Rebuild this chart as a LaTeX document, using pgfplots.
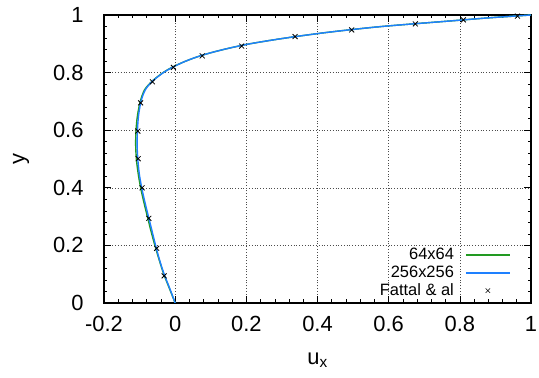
\documentclass[border=0pt]{standalone}
\usepackage{fontspec}
\setmainfont{Liberation Sans}
\usepackage{pgfplots}
\pgfplotsset{compat=1.18}
\definecolor{cgreen}{RGB}{34,154,34}
\definecolor{cblue}{RGB}{30,128,255}
\begin{document}
\begin{tikzpicture}
\begin{axis}[
  at={(0,0)}, anchor=south west,
  scale only axis, width=427bp, height=288bp,
  xmin=-0.2, xmax=1, ymin=0, ymax=1,
  xtick={-0.2,0,0.2,0.4,0.6,0.8,1},
  xticklabels={-0.2,0,0.2,0.4,0.6,0.8,1},
  ytick={0,0.2,0.4,0.6,0.8,1},
  yticklabels={0,0.2,0.4,0.6,0.8,1},
  minor x tick num=4, minor y tick num=4,
  tick align=inside,
  major tick length=7bp, minor tick length=3.5bp,
  tick style={black, line width=0.6pt},
  axis line style={line width=1.1pt},
  grid=major,
  major grid style={dash pattern=on 1pt off 1.8pt, black!70, line width=0.5pt},
  ticklabel style={font=\fontsize{22}{24}\selectfont},
  xticklabel style={yshift=-10bp},
  yticklabel style={xshift=-17bp},
  xlabel={u\textsubscript{x}}, ylabel={y},
  label style={font=\fontsize{22}{24}\selectfont},
  xlabel style={yshift=-14bp},
  ylabel style={yshift=17bp},
  legend plot pos=right,
  legend cell align=right,
  legend style={at={(1,0)}, anchor=south east, xshift=-20bp, yshift=3.5bp,
    draw=none, fill=none, font=\fontsize{16.5}{17}\selectfont,
    row sep=0.8bp, inner sep=0pt},
]
\addplot[cgreen, line width=1.4pt, smooth,
  legend image code/.code={\path[draw=none] (0bp,0bp) -- (54bp,0bp); \draw[cgreen, line width=1.8pt] (10bp,0bp) -- (54bp,0bp);}] table {
x y
0.000 0.00
-0.016 0.05
-0.032 0.10
-0.045 0.15
-0.057 0.20
-0.068 0.25
-0.078 0.30
-0.088 0.35
-0.097 0.40
-0.104 0.45
-0.109 0.50
-0.111 0.55
-0.110 0.60
-0.106 0.65
-0.098 0.70
-0.086 0.74
-0.065 0.77
-0.034 0.80
-0.006 0.82
0.030 0.84
0.075 0.86
0.135 0.88
0.210 0.90
0.310 0.92
0.430 0.94
0.580 0.96
0.780 0.98
0.880 0.99
1.000 1.00
};
\addlegendentry{64x64}
\addplot[cblue, line width=1.4pt, smooth,
  legend image code/.code={\path[draw=none] (0bp,0bp) -- (54bp,0bp); \draw[cblue, line width=1.8pt] (10bp,0bp) -- (54bp,0bp);}] table {
x y
0.000 0.00
-0.015 0.05
-0.031 0.10
-0.044 0.15
-0.055 0.20
-0.065 0.25
-0.075 0.30
-0.085 0.35
-0.094 0.40
-0.101 0.45
-0.105 0.50
-0.107 0.55
-0.106 0.60
-0.103 0.65
-0.096 0.70
-0.084 0.74
-0.064 0.77
-0.033 0.80
-0.005 0.82
0.030 0.84
0.075 0.86
0.135 0.88
0.210 0.90
0.310 0.92
0.430 0.94
0.580 0.96
0.780 0.98
0.880 0.99
1.000 1.00
};
\addlegendentry{256x256}
\addplot[only marks, mark=x, mark size=3.5pt, black, mark options={line width=0.8pt},
  legend image code/.code={\path[draw=none] (0bp,0bp) -- (54bp,0bp); \draw[black, line width=0.6pt] (29.8bp,-2.2bp) -- (34.2bp,2.2bp) (29.8bp,2.2bp) -- (34.2bp,-2.2bp);}] table {
x y
-0.031 0.094
-0.052 0.190
-0.074 0.294
-0.093 0.400
-0.104 0.501
-0.105 0.597
-0.097 0.695
-0.064 0.768
-0.005 0.818
0.076 0.858
0.187 0.892
0.337 0.925
0.496 0.948
0.675 0.969
0.810 0.983
0.962 0.996
};
\addlegendentry{Fattal \& al}
\end{axis}
\pgfresetboundingbox
\path[use as bounding box] (-104bp,-75bp) rectangle (435bp,303bp);
\end{tikzpicture}
\end{document}
